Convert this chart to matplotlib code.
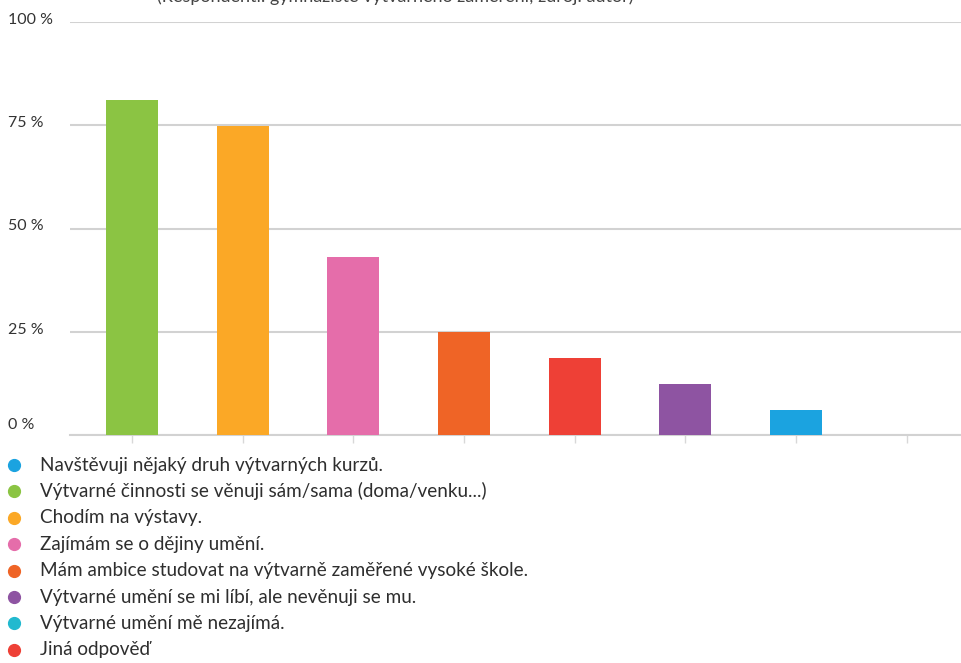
import matplotlib
matplotlib.use("Agg")
import matplotlib.pyplot as plt

plt.rcParams['font.family'] = ['Lato', 'DejaVu Sans']

# Legend order (as in reference)
legend_labels = [
    "Navštěvuji nějaký druh výtvarných kurzů.",
    "Výtvarné činnosti se věnuji sám/sama (doma/venku...)",
    "Chodím na výstavy.",
    "Zajímám se o dějiny umění.",
    "Mám ambice studovat na výtvarně zaměřené vysoké škole.",
    "Výtvarné umění se mi líbí, ale nevěnuji se mu.",
    "Výtvarné umění mě nezajímá.",
    "Jiná odpověď",
]
legend_colors = ["#1BA3E0", "#8BC443", "#FBA826", "#E56DAA",
                 "#EF6426", "#8E54A2", "#22B9CF", "#EE4036"]

# Bars (sorted, as drawn)
bar_categories = [
    "Výtvarné činnosti se věnuji sám/sama (doma/venku...)",
    "Chodím na výstavy.",
    "Zajímám se o dějiny umění.",
    "Mám ambice studovat na výtvarně zaměřené vysoké škole.",
    "Jiná odpověď",
    "Výtvarné umění se mi líbí, ale nevěnuji se mu.",
    "Navštěvuji nějaký druh výtvarných kurzů.",
    "Výtvarné umění mě nezajímá.",
]
bar_values = [81.0, 74.8, 43.1, 24.9, 18.6, 12.3, 6.1, 0.0]
y_ticks = [0, 25, 50, 75, 100]
y_tick_labels = ["0 %", "25 %", "50 %", "75 %", "100 %"]
subtitle = "(Respondenti: gymnázisté výtvarného zaměření; zdroj: autor)"

W, H = 962, 663
fig = plt.figure(figsize=(W / 100, H / 100), dpi=100)
fig.patch.set_facecolor("white")

# axes: left 70px, right 962px, top (100%) 22px, bottom (0%) 435px
ax = fig.add_axes([70 / W, 1 - 435 / H, (962 - 70) / W, (435 - 22) / H])
color_map = dict(zip(legend_labels, legend_colors))
xs = list(range(len(bar_categories)))
ax.bar(xs, bar_values, width=0.47,
       color=[color_map[c] for c in bar_categories], zorder=3)
ax.set_xlim(-0.56, 7.5)
ax.set_ylim(0, 100)
ax.set_yticks(y_ticks)
ax.set_yticklabels([])
ax.yaxis.grid(True, color="#d2d2d2", linewidth=1.5, zorder=0)
ax.tick_params(axis="y", length=0)
ax.set_xticks(xs)
ax.set_xticklabels([])
ax.tick_params(axis="x", length=6, color="#d8d8d8", width=1)
for s in ["top", "right", "left"]:
    ax.spines[s].set_visible(False)
ax.spines["bottom"].set_color("#d2d2d2")
ax.spines["bottom"].set_linewidth(1.5)

# y tick labels at left of figure
for v, lab in zip(y_ticks, y_tick_labels):
    yp = 1 - (435 - v / 100 * 413) / H
    off = 10 / H if v == 0 else 2 / H
    fig.text(8 / W, yp + off, lab, ha="left", va="center",
             fontsize=11.5, color="#333333")

# subtitle (cut off at the top edge, as in the reference)
fig.text(395 / W, 1 + 3 / H, subtitle, ha="center", va="center",
         fontsize=13, color="#444444")

# legend
lax = fig.add_axes([0, 0, 1, 1], zorder=5)
lax.set_xlim(0, W)
lax.set_ylim(H, 0)
lax.axis("off")
row_y0, row_dy = 465, 26.4
for i, (lab, col) in enumerate(zip(legend_labels, legend_colors)):
    y = row_y0 + i * row_dy
    lax.plot([14], [y], marker="o", markersize=8.5, color=col,
             linestyle="none")
    lax.text(40, y, lab, ha="left", va="center", fontsize=13.6,
             color="#2e2e2e")

fig.savefig("out.png", dpi=100, facecolor="white")
